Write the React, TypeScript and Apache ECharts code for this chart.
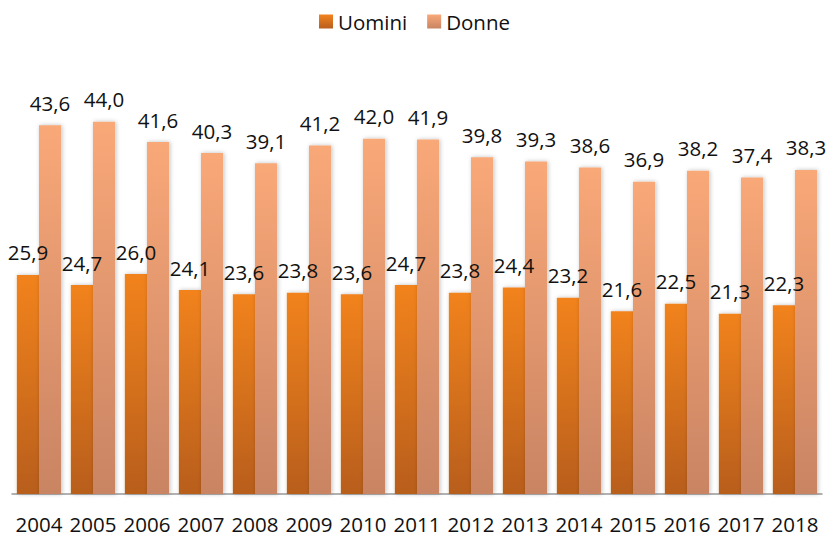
import React, { useEffect, useRef } from "react";
import * as echarts from "echarts";

const categories = ["2004","2005","2006","2007","2008","2009","2010","2011","2012","2013","2014","2015","2016","2017","2018"];
const uomini = [25.9,24.7,26.0,24.1,23.6,23.8,23.6,24.7,23.8,24.4,23.2,21.6,22.5,21.3,22.3];
const donne = [43.6,44.0,41.6,40.3,39.1,41.2,42.0,41.9,39.8,39.3,38.6,36.9,38.2,37.4,38.3];

const fmt = (v: number) => v.toFixed(1).replace(".", ",");

export default function App() {
  const ref = useRef<HTMLDivElement>(null);
  useEffect(() => {
    document.body.style.margin = "0";
    const chart = echarts.init(ref.current!, undefined, { renderer: "svg" });
    const font = "'Open Sans', sans-serif";
    const lbl = { show: true, position: "top", distance: 12, fontSize: 20.5, color: "#111", fontFamily: font, formatter: (p: any) => fmt(p.value) };
    chart.setOption({
      animation: false,
      textStyle: { fontFamily: font },
      legend: {
        top: 6,
        left: "center",
        itemWidth: 14,
        itemHeight: 14,
        itemGap: 20,
        icon: "rect",
        textStyle: { fontSize: 20.5, color: "#111", fontFamily: font },
        data: ["Uomini", "Donne"],
      },
      grid: { left: 12, right: 7, top: 71, bottom: 44, containLabel: false },
      xAxis: {
        type: "category",
        data: categories,
        axisLine: { lineStyle: { color: "#999", width: 1.5 } },
        axisTick: { length: 6, lineStyle: { color: "#999", width: 1.5 } },
        axisLabel: { interval: 0, hideOverlap: false, fontSize: 20.5, color: "#111", margin: 19, fontFamily: font },
      },
      yAxis: { type: "value", min: 0, max: 50, show: false, splitLine: { show: false } },
      series: [
        {
          name: "Uomini",
          type: "bar",
          data: uomini,
          barGap: "0%",
          barCategoryGap: "18%",
          itemStyle: {
            color: new echarts.graphic.LinearGradient(0, 0, 0, 1, [
              { offset: 0, color: "#F2831F" },
              { offset: 1, color: "#B85E1E" },
            ]),
            shadowColor: "rgba(0,0,0,0.25)",
            shadowBlur: 4,
            shadowOffsetX: 1,
          },
          label: lbl,
        },
        {
          name: "Donne",
          type: "bar",
          data: donne,
          itemStyle: {
            color: new echarts.graphic.LinearGradient(0, 0, 0, 1, [
              { offset: 0, color: "#F9A878" },
              { offset: 1, color: "#C98463" },
            ]),
            shadowColor: "rgba(0,0,0,0.25)",
            shadowBlur: 4,
            shadowOffsetX: 1,
          },
          label: lbl,
        },
      ],
    });
    return () => chart.dispose();
  }, []);
  return <div ref={ref} style={{ width: 829, height: 538 }} />;
}
